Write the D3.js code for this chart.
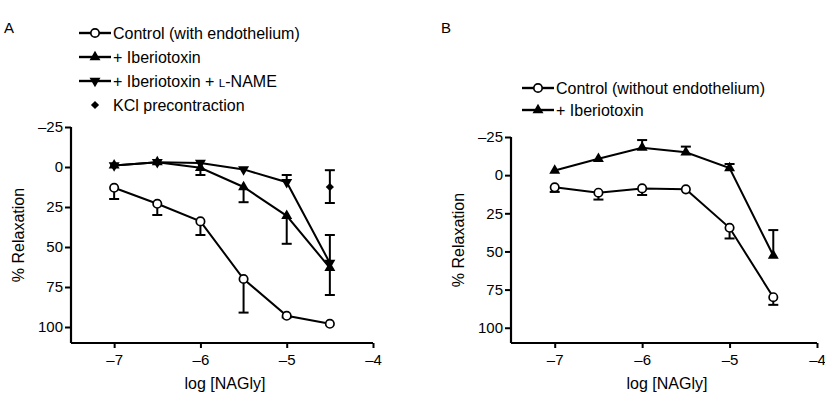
<!DOCTYPE html>
<html>
<head>
<script src="https://d3js.org/d3.v7.min.js"></script>
<style>
  body { margin: 0; background: #fff; }
  text { font-family: "Liberation Sans", Arial, Helvetica, sans-serif; fill: #000; }
</style>
</head>
<body>
<svg id="chart" width="825" height="400"></svg>
<script>
// concentrations (log M)
var logConc = [-7, -6.5, -6, -5.5, -5, -4.5];
var xTicks = [-7, -6, -5, -4];
var yTicks = [-25, 0, 25, 50, 75, 100];

// panel A values (% relaxation) and error bar ends
var ctrlEndo = [13, 23, 34, 70, 93, 98];
var ctrlEndoErr = [20, 30, 42.5, 91, 94, null];
var iberioA = [-1, -3, 0.5, 12.5, 30.5, 63];
var iberioAErr = [null, null, 5, 22, 48, 80];
var iberioLname = [-1, -3, -2.5, 1.5, 9.5, 60];
var iberioLnameErr = [null, null, null, null, 5, 42.5];
var kclLogConc = [-7, -6.5, -4.5];
var kcl = [-1, -3, 12.5];
var kclErrLo = [null, null, 2];
var kclErrHi = [null, null, 22.5];

// panel B values
var ctrlNoEndo = [8, 11.5, 8.7, 9.3, 34.5, 80];
var ctrlNoEndoErr = [11, 16, 13, null, 41.5, 85];
var iberioB = [-3, -10.7, -18, -15, -4.7, 52.7];
var iberioBErr = [null, null, -23, -18.7, -7.3, 36];

var svg = d3.select("#chart");

var tickFmt = function(d) { return String(d).replace("-", "\u2013"); };

function drawMarker(g, kind, x, y) {
  if (kind === "circle") {
    g.append("circle").attr("cx", x).attr("cy", y).attr("r", 4.2)
      .attr("fill", "#fff").attr("stroke", "#000").attr("stroke-width", 1.7);
  } else if (kind === "up") {
    g.append("path").attr("d", d3.symbol().type(d3.symbolTriangle).size(52)())
      .attr("transform", "translate(" + x + "," + y + ")").attr("fill", "#000");
  } else if (kind === "down") {
    g.append("path").attr("d", d3.symbol().type(d3.symbolTriangle).size(52)())
      .attr("transform", "translate(" + x + "," + y + ") rotate(180)").attr("fill", "#000");
  } else if (kind === "diamond") {
    g.append("path").attr("d", d3.symbol().type(d3.symbolSquare).size(34)())
      .attr("transform", "translate(" + x + "," + y + ") rotate(45)").attr("fill", "#000");
  }
}

function panel(opt) {
  var g = svg.append("g");
  var x = d3.scaleLinear().domain([-7.5, -4]).range([opt.left, opt.right]);
  var y = d3.scaleLinear().domain([-25, 110]).range([opt.top, opt.bottom]);

  // axes
  var ya = g.append("g").attr("transform", "translate(" + opt.left + ",0)")
    .call(d3.axisLeft(y).tickValues(yTicks).tickSize(6).tickPadding(2).tickFormat(tickFmt));
  ya.select(".domain").attr("d", "M0," + y(-25) + "V" + opt.bottom);
  var xa = g.append("g").attr("transform", "translate(0," + opt.bottom + ")")
    .call(d3.axisBottom(x).tickValues(xTicks).tickSize(5).tickPadding(6).tickFormat(tickFmt));
  xa.select(".domain").attr("d", "M" + opt.left + ",0H" + x(-4));
  g.selectAll(".domain").attr("stroke", "#000").attr("stroke-width", 2.2);
  g.selectAll(".tick line").attr("stroke", "#000").attr("stroke-width", 2);
  g.selectAll(".tick text").attr("font-size", 15).attr("fill", "#000")
    .style("font-family", "'Liberation Sans', Arial, sans-serif");

  // axis titles
  g.append("text").attr("x", (opt.left + x(-4)) / 2 + 3).attr("y", opt.bottom + 46)
    .attr("text-anchor", "middle").attr("font-size", 16).text("log [NAGly]");
  g.append("text").attr("transform", "translate(" + (opt.left - 47) + "," + (opt.top + opt.bottom) / 2 + ") rotate(-90)")
    .attr("text-anchor", "middle").attr("font-size", 16).text("% Relaxation");
  g.append("text").attr("x", opt.labelX).attr("y", 33).attr("font-size", 15).text(opt.label);

  // series
  opt.series.forEach(function(s) {
    var xs = s.xs || logConc;
    var pts = xs.map(function(c, i) { return { c: c, v: s.values[i], e: s.err ? s.err[i] : null, lo: s.lo ? s.lo[i] : null }; });
    pts.forEach(function(p) {
      var ends = [];
      if (p.e != null) ends.push(p.e);
      if (p.lo != null) ends.push(p.lo);
      ends.forEach(function(e) {
        g.append("line").attr("x1", x(p.c)).attr("x2", x(p.c)).attr("y1", y(p.v)).attr("y2", y(e))
          .attr("stroke", "#000").attr("stroke-width", 2);
        g.append("line").attr("x1", x(p.c) - 5).attr("x2", x(p.c) + 5).attr("y1", y(e)).attr("y2", y(e))
          .attr("stroke", "#000").attr("stroke-width", 2);
      });
    });
    if (s.line) {
      g.append("path").datum(pts)
        .attr("d", d3.line().x(function(p) { return x(p.c); }).y(function(p) { return y(p.v); }))
        .attr("fill", "none").attr("stroke", "#000").attr("stroke-width", 2);
    }
    pts.forEach(function(p) { drawMarker(g, s.marker, x(p.c), y(p.v)); });
  });

  // legend
  opt.legend.forEach(function(l, i) {
    var ly = opt.legendY + i * opt.legendStep;
    var lx = opt.legendX;
    if (l.line) {
      g.append("line").attr("x1", lx).attr("x2", lx + 32).attr("y1", ly).attr("y2", ly)
        .attr("stroke", "#000").attr("stroke-width", 2.4);
    }
    drawMarker(g, l.marker, lx + 16, ly);
    var t = g.append("text").attr("x", lx + 34).attr("y", ly + 6).attr("font-size", 16);
    l.text.forEach(function(part) {
      t.append("tspan").attr("font-size", part.small ? 11.5 : 16).text(part.t);
    });
  });
}

panel({
  left: 71, right: 373, top: 127, bottom: 343, label: "A", labelX: 4,
  series: [
    { values: ctrlEndo, err: ctrlEndoErr, marker: "circle", line: true },
    { values: iberioA, err: iberioAErr, marker: "up", line: true },
    { values: iberioLname, err: iberioLnameErr, marker: "down", line: true },
    { xs: kclLogConc, values: kcl, err: kclErrHi, lo: kclErrLo, marker: "diamond", line: false }
  ],
  legendX: 79, legendY: 33, legendStep: 24,
  legend: [
    { marker: "circle", line: true, text: [{ t: "Control (with endothelium)" }] },
    { marker: "up", line: true, text: [{ t: "+ Iberiotoxin" }] },
    { marker: "down", line: true, text: [{ t: "+ Iberiotoxin + " }, { t: "L", small: true }, { t: "-NAME" }] },
    { marker: "diamond", line: false, text: [{ t: "KCl precontraction" }] }
  ]
});

panel({
  left: 511, right: 817, top: 137, bottom: 343, label: "B", labelX: 441,
  series: [
    { values: ctrlNoEndo, err: ctrlNoEndoErr, marker: "circle", line: true },
    { values: iberioB, err: iberioBErr, marker: "up", line: true }
  ],
  legendX: 522, legendY: 88, legendStep: 22,
  legend: [
    { marker: "circle", line: true, text: [{ t: "Control (without endothelium)" }] },
    { marker: "up", line: true, text: [{ t: "+ Iberiotoxin" }] }
  ]
});
</script>
</body>
</html>
